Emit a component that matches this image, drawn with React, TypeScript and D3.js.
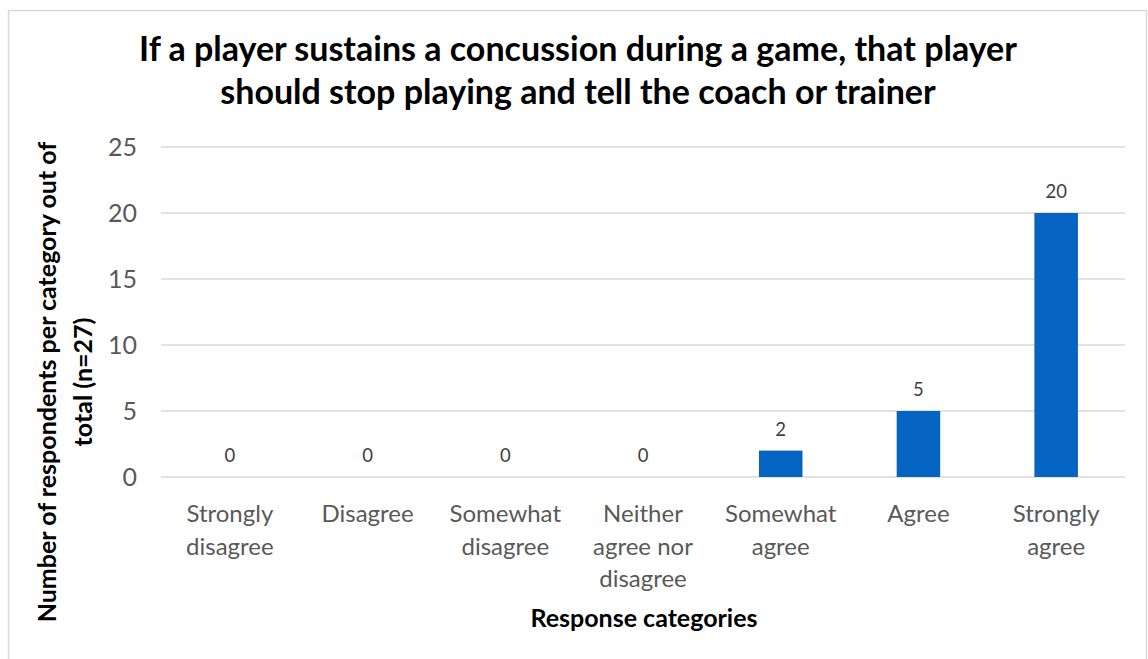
import React from "react";
import * as d3 from "d3";

const categories = [
  "Strongly disagree",
  "Disagree",
  "Somewhat disagree",
  "Neither agree nor disagree",
  "Somewhat agree",
  "Agree",
  "Strongly agree",
];
const categoryLines = [
  ["Strongly", "disagree"],
  ["Disagree"],
  ["Somewhat", "disagree"],
  ["Neither", "agree nor", "disagree"],
  ["Somewhat", "agree"],
  ["Agree"],
  ["Strongly", "agree"],
];
const values = [0, 0, 0, 0, 2, 5, 20];
const yTicks = [0, 5, 10, 15, 20, 25];
const titleLines = [
  "If a player sustains a concussion during a game, that player",
  "should stop playing and tell the coach or trainer",
];
const yTitleLines = ["Number of respondents per category out of", "total (n=27)"];
const xTitle = "Response categories";

const W = 1148;
const H = 659;
const FONT = "Lato, 'Open Sans', sans-serif";

export default function App() {
  const plot = { left: 161, right: 1125, top: 147, bottom: 477 };
  const x = d3
    .scaleBand<string>()
    .domain(categories)
    .range([plot.left, plot.right])
    .paddingInner(0.684)
    .paddingOuter(0.342);
  const y = d3.scaleLinear().domain([0, 25]).range([plot.bottom, plot.top]);

  return (
    <svg
      width={W}
      height={H}
      style={{ position: "absolute", left: 0, top: 0, background: "#fff" }}
      fontFamily={FONT}
    >
      <rect x={8.5} y={10.5} width={1138} height={700} fill="#fff" stroke="#D9D9D9" strokeWidth={1.5} />
      {titleLines.map((t, i) => (
        <text
          key={i}
          x={578}
          y={61 + i * 43}
          textAnchor="middle"
          fontSize={34}
          fontWeight="bold"
          fill="#000"
        >
          {t}
        </text>
      ))}
      {yTicks.map((t) => (
        <g key={t}>
          <line x1={plot.left} x2={plot.right} y1={y(t)} y2={y(t)} stroke="#D9D9D9" strokeWidth={1.3} />
          <text x={137} y={y(t) + 8.5} textAnchor="end" fontSize={25} fill="#595959">
            {t}
          </text>
        </g>
      ))}
      {categories.map((c, i) => {
        const cx = (x(c) as number) + x.bandwidth() / 2;
        return (
          <g key={c}>
            {values[i] > 0 && (
              <rect
                x={x(c) as number}
                y={y(values[i])}
                width={x.bandwidth()}
                height={y(0) - y(values[i])}
                fill="#0563C1"
              />
            )}
            <text x={cx} y={y(values[i]) - 15} textAnchor="middle" fontSize={18.5} fill="#404040">
              {values[i]}
            </text>
            {categoryLines[i].map((ln, j) => (
              <text key={j} x={cx} y={522 + j * 32.5} textAnchor="middle" fontSize={24} fill="#595959">
                {ln}
              </text>
            ))}
          </g>
        );
      })}
      <text x={644} y={627} textAnchor="middle" fontSize={25} fontWeight="bold" fill="#000">
        {xTitle}
      </text>
      {yTitleLines.map((t, i) => (
        <text
          key={i}
          transform={`translate(${56 + i * 36},382) rotate(-90)`}
          textAnchor="middle"
          fontSize={25}
          fontWeight="bold"
          fill="#000"
        >
          {t}
        </text>
      ))}
    </svg>
  );
}
